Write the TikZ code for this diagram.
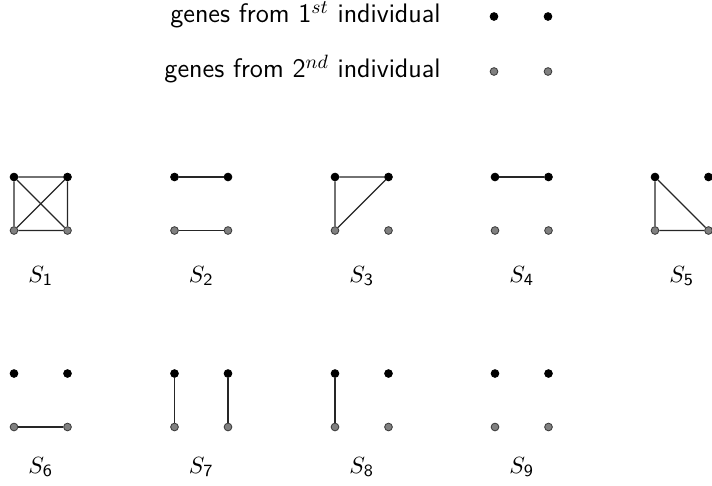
\documentclass[tikz,border=0pt]{standalone}
\usepackage{amsmath,amssymb}
\usetikzlibrary{positioning}
\definecolor{GeneGray}{RGB}{128,128,128}
\definecolor{GeneRim}{RGB}{60,60,60}

\begin{document}
\begin{tikzpicture}[
      x=0.467pt, y=-0.467pt,
      font=\fontsize{11}{13}\selectfont,
      gene/.style={circle, inner sep=0pt, minimum size=3.6pt, line width=0.4pt},
      first/.style={gene, draw=black, fill=black},
      second/.style={gene, draw=GeneRim, fill=GeneGray},
      link/.style={line width=0.55pt, black!85},
      legend/.style={font=\fontsize{12.5}{14}\selectfont\sffamily, anchor=base east,
                     inner sep=0pt},
    ]
      \useasboundingbox (0,0) rectangle (712,485);

      % legend
      \node[first] (lf1) at (494,16.5) {};
      \node[first] (lf2) at (548,16.5) {};
      \node[second] (ls1) at (494,71.5) {};
      \node[second] (ls2) at (548,71.5) {};
      \node[legend] (lgfirst) at (441,22.5) {genes from 1$^{st}$ individual};
      \node[legend] (lgsecond) at (441,77.5) {genes from 2$^{nd}$ individual};

      % the nine graphs
      \foreach \k/\x/\y/\ly in {1/14/177/282, 2/174.5/177/282, 3/335/177/282,
          4/495/177/282, 5/655/177/282, 6/14/373.5/473, 7/174.5/373.5/473,
          8/335/373.5/473, 9/495/373.5/473} {
        \node[first] (t\k-1) at (\x,\y) {};
        \node[first] (t\k-2) at (\x+53.5,\y) {};
        \node[second] (b\k-1) at (\x,\y+53.5) {};
        \node[second] (b\k-2) at (\x+53.5,\y+53.5) {};
        \node[anchor=base] (lbl\k) at (\x+26.75,\ly) {$S_{\mathsf{\k}}$};
      }

      % S_1
      \draw[link] (t1-1) -- (t1-2) -- (b1-2) -- (b1-1) -- (t1-1) -- (b1-2);
      \draw[link] (t1-2) -- (b1-1);
      % S_2
      \draw[link] (t2-1) -- (t2-2);
      \draw[link] (b2-1) -- (b2-2);
      % S_3
      \draw[link] (b3-1) -- (t3-1) -- (t3-2) -- (b3-1);
      % S_4
      \draw[link] (t4-1) -- (t4-2);
      % S_5
      \draw[link] (t5-1) -- (b5-1) -- (b5-2) -- (t5-1);
      % S_6
      \draw[link] (b6-1) -- (b6-2);
      % S_7
      \draw[link] (t7-1) -- (b7-1);
      \draw[link] (t7-2) -- (b7-2);
      % S_8
      \draw[link] (t8-1) -- (b8-1);
    \end{tikzpicture}
\end{document}
